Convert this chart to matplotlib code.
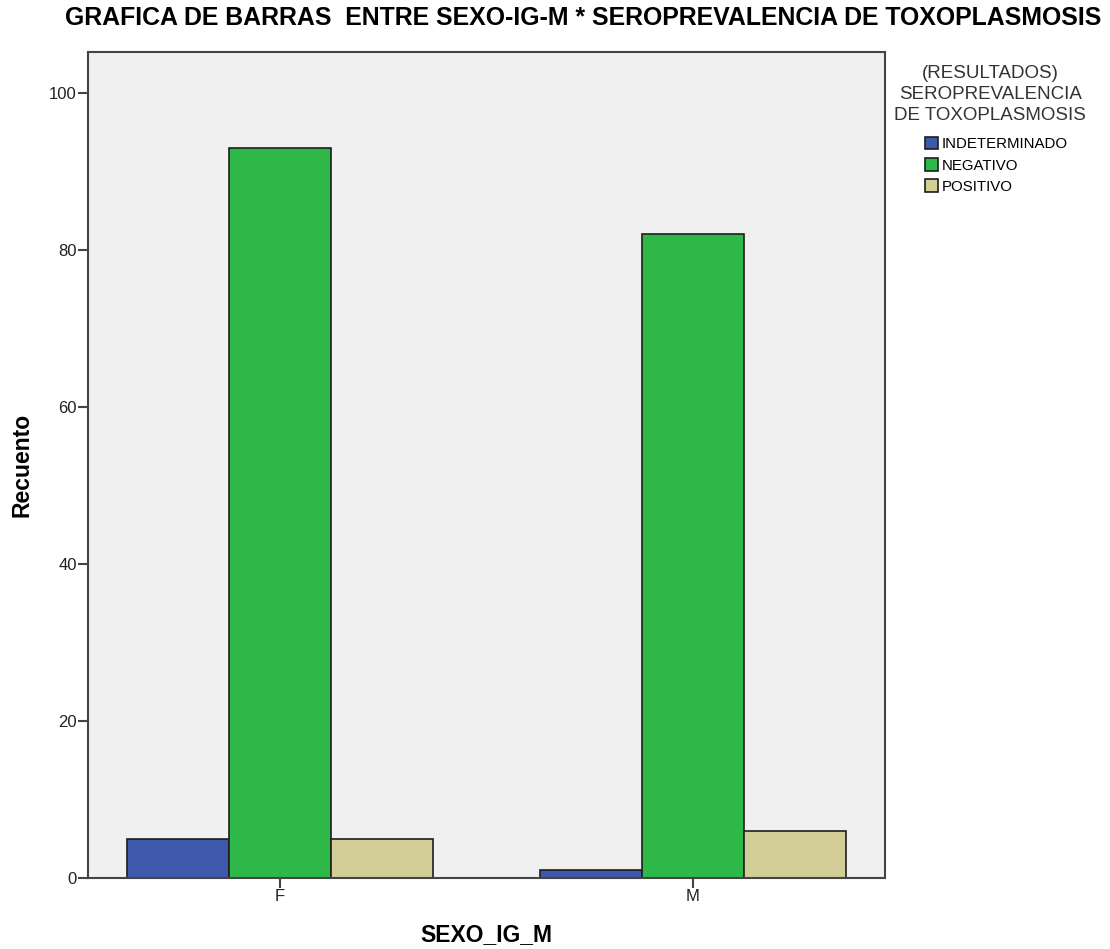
import numpy as np
import matplotlib
matplotlib.use("Agg")
from matplotlib import pyplot as plt

plt.rcParams['font.family'] = ['Liberation Sans', 'DejaVu Sans']

categorias = ['F', 'M']
series = ['INDETERMINADO', 'NEGATIVO', 'POSITIVO']
valores = {
    'INDETERMINADO': [5, 1],
    'NEGATIVO': [93, 82],
    'POSITIVO': [5, 6],
}
colores = ['#3E58AC', '#2EB848', '#D3CE97']

fig = plt.figure(figsize=(11.1, 9.49), dpi=100)
ax = fig.add_axes([0.0793, 0.0748, 0.7177, 0.8704])
ax.set_facecolor('#F0F0F0')

x = np.arange(len(categorias))
ancho = 0.247
for i, s in enumerate(series):
    ax.bar(x + (i - 1) * ancho, valores[s], ancho, color=colores[i],
           edgecolor='#1E1E1E', linewidth=1.2, label=s, zorder=2)

ax.set_xlim(-0.465, 1.465)
ax.set_ylim(0, 105.2)
ax.set_xticks(x)
ax.set_xticklabels(categorias)
ax.set_yticks([0, 20, 40, 60, 80, 100])
ax.tick_params(axis='both', direction='out', length=7, width=1.5, color='#444444',
               labelsize=12, labelcolor='#222222', pad=1)
for sp in ax.spines.values():
    sp.set_color('#444444')
    sp.set_linewidth(1.5)

ax.set_ylabel('Recuento', fontsize=16.5, fontweight='bold', va='center')
ax.yaxis.set_label_coords(-0.0828, 0.5)
ax.set_xlabel('SEXO_IG_M', fontsize=16.5, fontweight='bold', va='center')
ax.xaxis.set_label_coords(0.5, -0.069)

fig.text(0.525, 0.981, 'GRAFICA DE BARRAS  ENTRE SEXO-IG-M * SEROPREVALENCIA DE TOXOPLASMOSIS',
         ha='center', va='center', fontsize=17.9, fontweight='bold')

# titulo de la leyenda
fig.text(0.892, 0.9315, '(RESULTADOS)\nSEROPREVALENCIA\nDE TOXOPLASMOSIS',
         ha='center', va='top', multialignment='center', fontsize=13.5,
         linespacing=1.3, color='#333333')

leg = ax.legend(loc='upper left', bbox_to_anchor=(0.8333, 0.8556),
                bbox_transform=fig.transFigure, frameon=False, borderpad=0,
                borderaxespad=0, fontsize=10.8, handlelength=0.9,
                handleheight=0.9, handletextpad=0.2, labelspacing=0.45)

fig.savefig('out.png', dpi=100)
